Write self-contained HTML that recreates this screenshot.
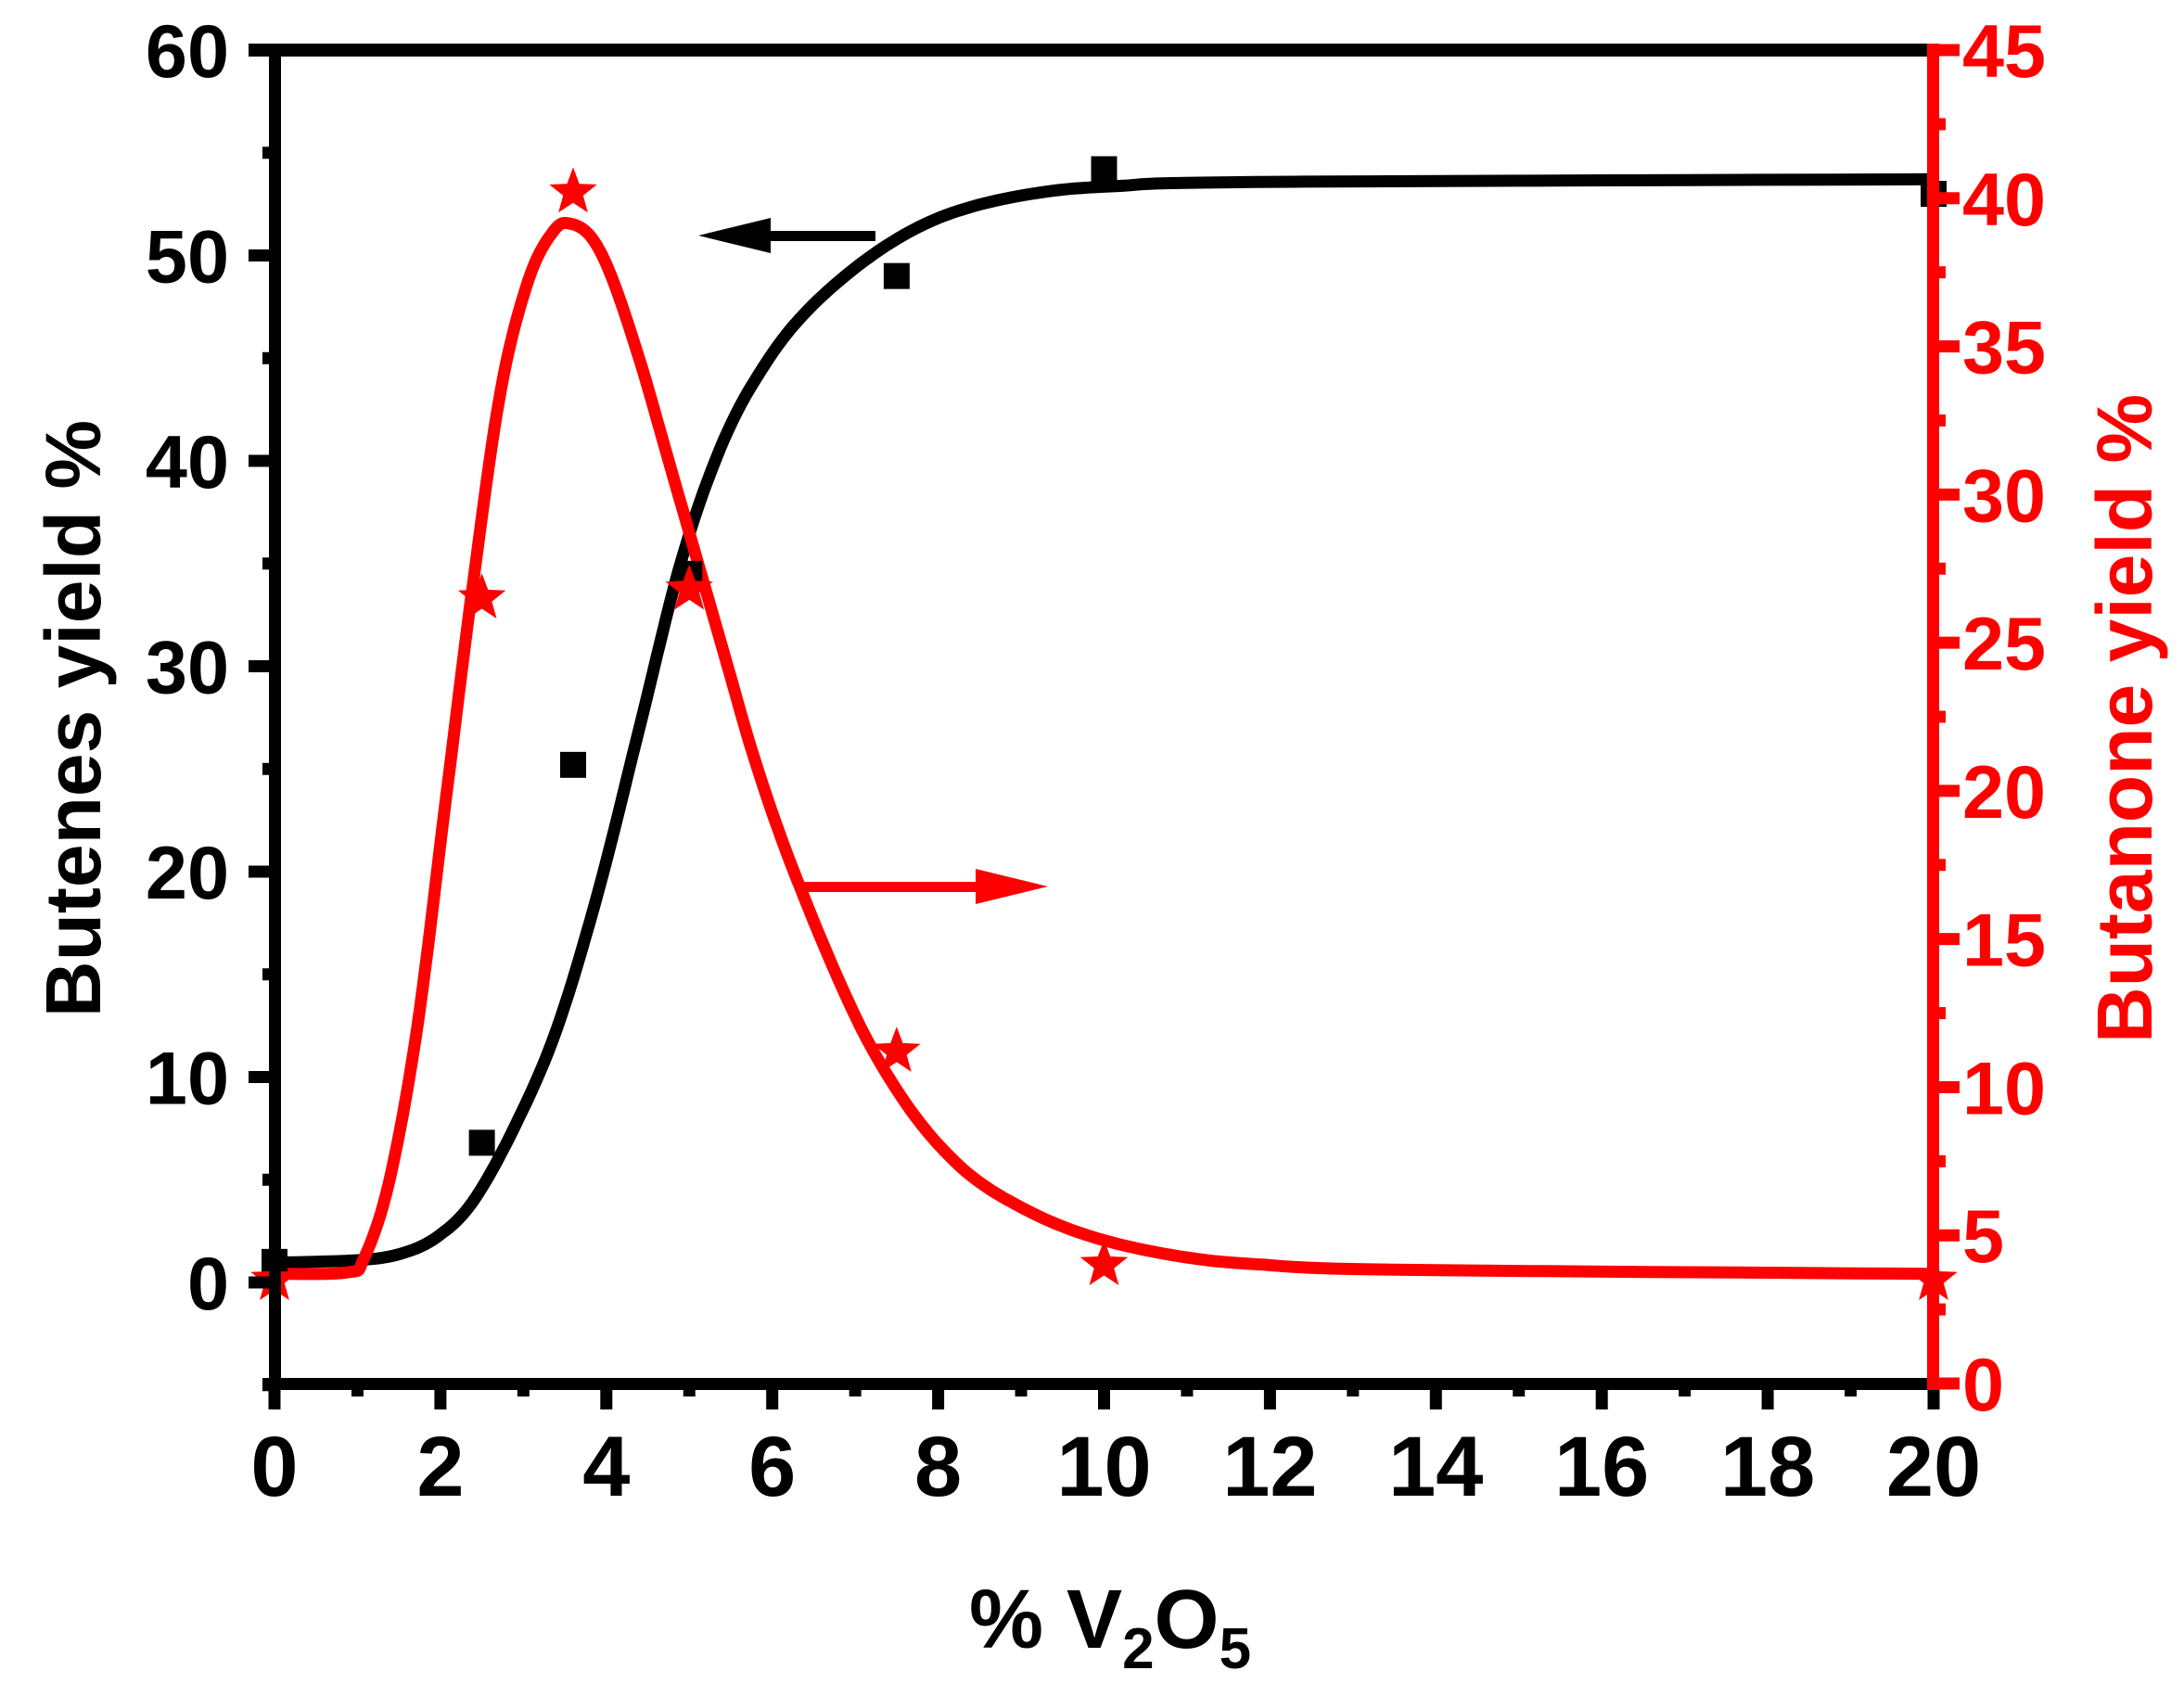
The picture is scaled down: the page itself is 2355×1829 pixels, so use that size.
<!DOCTYPE html>
<html><head><meta charset="utf-8"><style>
html,body{margin:0;padding:0;background:#fff;}
svg{display:block;}
text{font-family:"Liberation Sans",Arial,sans-serif;font-weight:bold;}
</style></head><body>
<svg id="s" width="2355" height="1829" viewBox="0 0 2355 1829" xmlns="http://www.w3.org/2000/svg">
<g id="g"></g>
<text x="1045" y="1777" font-size="90" fill="#000">% V<tspan font-size="62" dy="22">2</tspan><tspan dy="-22">O</tspan><tspan font-size="62" dy="22">5</tspan></text>
<text transform="translate(108,775) rotate(-90)" text-anchor="middle" font-size="84" fill="#000">Butenes yield  %</text>
<text transform="translate(2320,775) rotate(-90)" text-anchor="middle" font-size="84" fill="#ff0000">Butanone yield %</text>
</svg>
<script>
var NS="http://www.w3.org/2000/svg",g=document.getElementById('g');
function el(t,a,txt){var e=document.createElementNS(NS,t);for(var k in a)e.setAttribute(k,a[k]);if(txt!=null)e.textContent=txt;g.appendChild(e);return e;}
var X0=296,X1=2085;function px(x){return X0+(X1-X0)*x/20;}
function pyL(y){return 1383-(1383-54)*y/60;}
function pyR(y){return 1492-(1492-54)*y/45;}
function dx(d){return 296+(d-198)*1.506;} function dy(d){return 54+(d-35)*1.498;}
function path(pts,col){var d='';pts.forEach(function(p,i){d+=(i?'L':'M')+dx(p[0]).toFixed(1)+' '+dy(p[1]).toFixed(1)+' ';});
 el('path',{d:d,fill:'none',stroke:col,'stroke-width':13,'stroke-linejoin':'round','stroke-linecap':'butt'});}
function smooth(pts){
 var out=[];for(var i=0;i<pts.length-1;i++){var p0=pts[Math.max(0,i-1)],p1=pts[i],p2=pts[i+1],p3=pts[Math.min(pts.length-1,i+2)];
 for(var t=0;t<1;t+=0.1){var t2=t*t,t3=t2*t;out.push([0,1].map(function(k){return 0.5*((2*p1[k])+(-p0[k]+p2[k])*t+(2*p0[k]-5*p1[k]+4*p2[k]-p3[k])*t2+(-p0[k]+3*p1[k]-3*p2[k]+p3[k])*t3);}));}}
 out.push(pts[pts.length-1]);return out;}
var blk=[[198,908],[260,906],[290,901],[315,889],[340,864],[370,810],[400,740],[430,640],[460,520],[490,400],[520,315],[550,260],[580,222],[620,187],[660,162],[700,147],[750,137],[800,133],[900,130],[1386,128]];
var red=[[198,916],[250,915],[262,905],[280,850],[300,740],[320,580],[340,420],[360,280],[380,200],[398,165],[410,160],[425,170],[440,200],[460,260],[480,330],[500,400],[520,470],[540,540],[560,600],[580,652],[600,700],[620,743],[640,778],[660,807],[680,830],[700,848],[725,864],[760,881],[800,894],[850,904],[900,909],[1000,913],[1386,916]];
path(smooth(blk),'#000');
path(smooth(red),'#ff0000');
[[0,1],[2.5,6.8],[3.6,25.2],[5,34.5],[7.5,49],[10,54.2],[20,53]].forEach(function(p){
 el('rect',{x:px(p[0])-14,y:pyL(p[1])-14,width:28,height:28,fill:'#000'});});
function star(cx,cy,R){var r=R*0.42,d='';for(var i=0;i<10;i++){var a=-Math.PI/2+i*Math.PI/5,rr=i%2?r:R;d+=(i?'L':'M')+(cx+rr*Math.cos(a)).toFixed(1)+' '+(cy+rr*Math.sin(a)).toFixed(1);}
 el('path',{d:d+'Z',fill:'#ff0000'});}
[[0,3.5],[2.5,26.5],[3.6,40.2],[5,26.8],[7.5,11.2],[10,4],[20,3.5]].forEach(function(p){star(px(p[0]),pyR(p[1]),27);});
el('rect',{x:820,y:249,width:124,height:11,fill:'#000'});
el('path',{d:'M753 254 L831 235 L831 273 Z',fill:'#000'});
el('rect',{x:860,y:951,width:200,height:11,fill:'#ff0000'});
el('path',{d:'M1130 956 L1052 937 L1052 975 Z',fill:'#ff0000'});
el('rect',{x:268,y:47,width:1823,height:14,fill:'#000'});
el('rect',{x:290,y:47,width:13,height:1452,fill:'#000'});
el('rect',{x:283,y:1486,width:1808,height:13,fill:'#000'});
for(var v=-5;v<=60;v+=5){var y=pyL(v);if(v%10==0){el('rect',{x:268,y:y-6.5,width:30,height:13,fill:'#000'});
 el('text',{x:247,y:y+29,'text-anchor':'end','font-size':81,fill:'#000'},String(v));}
 else el('rect',{x:283,y:y-6.5,width:15,height:13,fill:'#000'});}
for(var v=0;v<=20;v++){var x=px(v);if(v%2==0){el('rect',{x:x-6.5,y:1490,width:13,height:30,fill:'#000'});
 el('text',{x:x,y:1613,'text-anchor':'middle','font-size':92,fill:'#000'},String(v));}
 else el('rect',{x:x-6.5,y:1490,width:13,height:16,fill:'#000'});}
el('rect',{x:2078,y:47,width:13,height:1452,fill:'#ff0000'});
for(var v=0;v<=45;v+=2.5){var y=pyR(v);if(v%5==0){el('rect',{x:2082,y:y-6.5,width:31,height:13,fill:'#ff0000'});
 el('text',{x:2116,y:y+29,'font-size':81,fill:'#ff0000'},String(v));}
 else el('rect',{x:2082,y:y-6.5,width:16,height:13,fill:'#ff0000'});}
</script>
</body></html>
